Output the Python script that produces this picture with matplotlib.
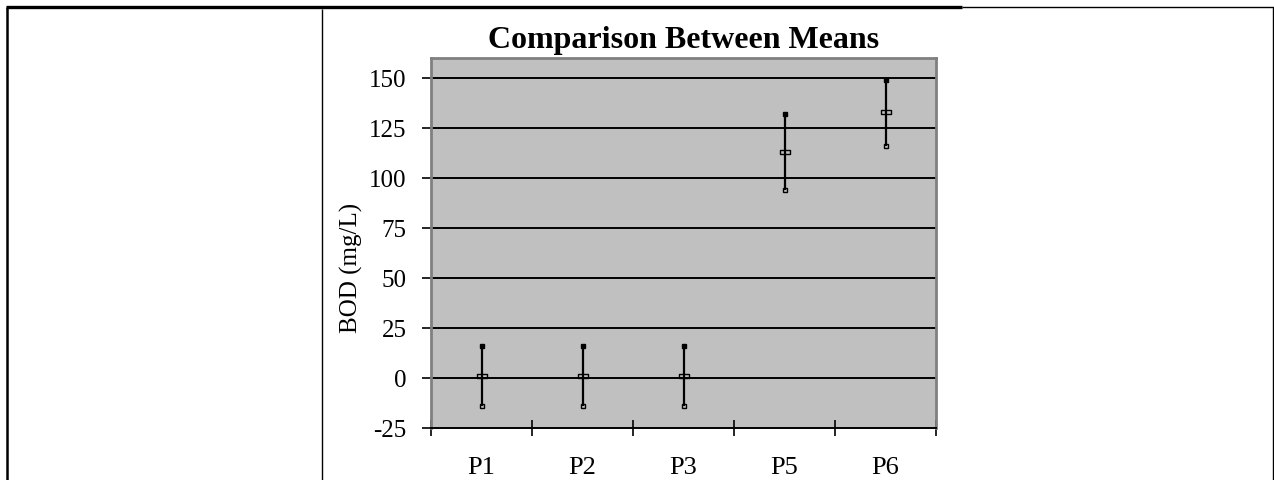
import matplotlib
matplotlib.use('Agg')
import matplotlib.pyplot as plt
from matplotlib.lines import Line2D
from matplotlib.path import Path

plt.rcParams['font.family'] = ['Liberation Serif', 'DejaVu Serif']

# BOD per sampling point: upper, mean, lower
categories = ['P1', 'P2', 'P3', 'P5', 'P6']
high = [16, 16, 16, 132, 149]
mean = [1, 1, 1, 113, 133]
low = [-14, -14, -14, 94, 116]
yticks = [-25, 0, 25, 50, 75, 100, 125, 150]

W, H = 1274, 481
fig = plt.figure(figsize=(W / 100, H / 100), dpi=100)
fig.patch.set_facecolor('white')


def px(x0, y0, x1, y1, lw, color='black'):
    # line in figure pixels (origin top-left)
    fig.add_artist(Line2D([x0 / W, x1 / W], [1 - y0 / H, 1 - y1 / H],
                          transform=fig.transFigure, color=color, lw=lw,
                          solid_capstyle='butt'))


# page table borders
px(6, 8, 962, 8, 2.4)
px(962, 8, 1274, 8, 1.0)
px(7, 8, 7, 481, 1.8)
px(322, 10, 322, 481, 1.0)
px(1273, 8, 1273, 481, 1.0)

l, r, t, b = 431, 936, 59, 429
ax = fig.add_axes([l / W, 1 - b / H, (r - l) / W, (b - t) / H])
ax.set_facecolor('#C0C0C0')

x = list(range(len(categories)))
ax.set_xlim(-0.5, len(categories) - 0.5)
ax.set_ylim(-25, 160)

for v in yticks[1:]:
    ax.axhline(v, color='black', lw=1.4, zorder=1)

# high-low lines with markers
ax.vlines(x, low, high, color='black', lw=1.6, zorder=3)
box = Path([(-1, -0.35), (1, -0.35), (1, 0.35), (-1, 0.35), (-1, -0.35)],
           [Path.MOVETO, Path.LINETO, Path.LINETO, Path.LINETO, Path.CLOSEPOLY])
ax.plot(x, high, ls='none', marker='s', ms=3.4, mfc='black', mec='black',
        mew=1, zorder=4)
ax.plot(x, mean, ls='none', marker=box, ms=7, mfc='none', mec='black',
        mew=1, zorder=4)
ax.plot(x, low, ls='none', marker='s', ms=3.4, mfc='none', mec='black',
        mew=1, zorder=4)

for side in ['left', 'top', 'right']:
    ax.spines[side].set_color('#808080')
    ax.spines[side].set_linewidth(2)
ax.spines['bottom'].set_color('black')
ax.spines['bottom'].set_linewidth(1.4)

ax.set_yticks(yticks)
ax.set_yticklabels([str(v) for v in yticks], fontsize=18)
ax.tick_params(axis='y', direction='out', length=6.5, width=1.2, color='black', pad=11)

ax.set_xticks([i - 0.5 for i in range(len(categories) + 1)])
ax.set_xticklabels([])
ax.tick_params(axis='x', which='major', direction='inout', length=12, width=1.2)
ax.set_xticks(x, minor=True)
ax.set_xticklabels(categories, minor=True, fontsize=19)
ax.tick_params(axis='x', which='minor', length=0, pad=20)

ax.set_ylabel('BOD (mg/L)', fontsize=18)
ax.yaxis.set_label_coords(-0.135, 0.435)
ax.set_title('Comparison Between Means', fontsize=23, fontweight='bold', pad=8)

fig.savefig('out.png', dpi=100)
